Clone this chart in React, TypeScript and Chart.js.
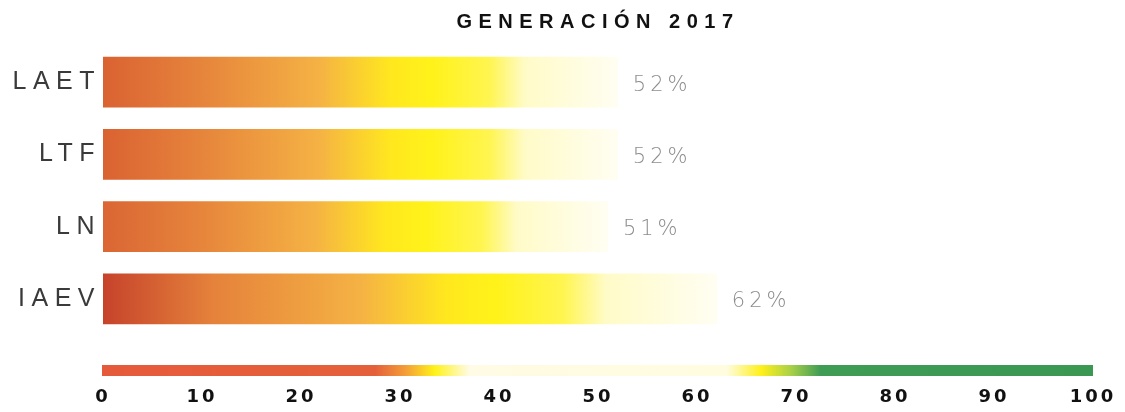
import React, { useEffect, useRef } from "react";
import { Chart, registerables } from "chart.js";

Chart.register(...registerables);

const title = "GENERACIÓN 2017";
const categories = ["LAET", "LTF", "LN", "IAEV"];
const values = [52, 52, 51, 62];
const axisMin = 0;
const axisMax = 100;
const axisStep = 10;

// colour stops of the reference scale strip (value on the 0-100 axis, colour)
const scaleStops: [number, string][] = [
  [0, "#e65a3c"],
  [27.5, "#e4603a"],
  [30.5, "#f39c38"],
  [33.5, "#fff21a"],
  [37, "#fffbe4"],
  [63, "#fffce0"],
  [66.5, "#fff01a"],
  [69.5, "#a8d048"],
  [72.5, "#3f9c55"],
  [100, "#3a9853"],
];

const barStartColors = ["#da6232", "#da6232", "#da6634", "#c6432b"];

const App: React.FC = () => {
  const canvasRef = useRef<HTMLCanvasElement | null>(null);

  useEffect(() => {
    if (!canvasRef.current) return;

    const spacingPlugin = {
      id: "spacing",
      beforeDraw(chart: any) {
        chart.ctx.letterSpacing = "6.5px";
      },
    };

    const stripPlugin = {
      id: "strip",
      afterDraw(chart: any) {
        const x = chart.scales.x;
        const ctx = chart.ctx;
        const x0 = x.getPixelForValue(axisMin) - 1;
        const x1 = x.getPixelForValue(axisMax);
        const y0 = chart.chartArea.bottom + 30;
        const g = ctx.createLinearGradient(x0, 0, x1, 0);
        for (const [v, c] of scaleStops) {
          g.addColorStop(Math.max(0, Math.min(1, (x.getPixelForValue(v) - x0) / (x1 - x0))), c);
        }
        ctx.save();
        ctx.fillStyle = g;
        ctx.fillRect(x0, y0, x1 - x0, 11);
        ctx.restore();
      },
    };

    const pctPlugin = {
      id: "pct",
      afterDatasetsDraw(chart: any) {
        const ctx = chart.ctx;
        const meta = chart.getDatasetMeta(0);
        ctx.save();
        ctx.letterSpacing = "4px";
        ctx.font = "200 21px 'DejaVu Sans', sans-serif";
        ctx.fillStyle = "#8c8c8c";
        ctx.textAlign = "left";
        ctx.textBaseline = "middle";
        meta.data.forEach((bar: any, i: number) => {
          ctx.fillText(`${values[i]}%`, bar.x + 15, bar.y + 3);
        });
        ctx.restore();
        // spacing for the x-axis tick labels, drawn after the datasets
        ctx.letterSpacing = "3px";
      },
    };

    const chart = new Chart(canvasRef.current, {
      type: "bar",
      data: {
        labels: categories,
        datasets: [
          {
            data: values,
            barThickness: 50,
            borderWidth: 0,
            backgroundColor: (c: any) => {
              const chart = c.chart;
              if (!chart.chartArea || c.dataIndex === undefined) return "#f0a040";
              const xs = chart.scales.x;
              const x0 = xs.getPixelForValue(0);
              const x1 = xs.getPixelForValue(values[c.dataIndex]);
              const g = chart.ctx.createLinearGradient(x0, 0, x1, 0);
              g.addColorStop(0, barStartColors[c.dataIndex]);
              g.addColorStop(0.18, "#e5823b");
              g.addColorStop(0.42, "#f5b244");
              g.addColorStop(0.56, "#ffe81e");
              g.addColorStop(0.64, "#fff21a");
              g.addColorStop(0.75, "#fff550");
              g.addColorStop(0.82, "#fffbc8");
              g.addColorStop(1, "#fffef2");
              return g;
            },
          },
        ],
      },
      options: {
        indexAxis: "y",
        animation: false,
        responsive: false,
        layout: { padding: { left: 0, right: 32, top: 0, bottom: 3 } },
        plugins: {
          legend: { display: false },
          tooltip: { enabled: false },
          title: {
            display: true,
            text: title,
            fullSize: false,
            color: "#111",
            font: { family: "'Liberation Sans', Arial, sans-serif", weight: "bold", size: 20 },
            padding: { top: 10, bottom: 12 },
          },
        },
        scales: {
          x: {
            min: axisMin,
            max: axisMax,
            position: "bottom",
            grid: { display: false, drawTicks: false },
            border: { display: false },
            ticks: {
              z: 1,
              stepSize: axisStep,
              color: "#111",
              padding: 52,
              maxRotation: 0,
              font: { family: "'DejaVu Sans', Verdana, sans-serif", weight: "bold", size: 18 },
            },
            afterFit: (s: any) => {
              s.paddingLeft = 0;
              s.paddingRight = 0;
              s.height = 74;
            },
          },
          y: {
            grid: { display: false, drawTicks: false },
            border: { display: false },
            ticks: {
              color: "#3a3a3a",
              padding: 2,
              font: { family: "'Liberation Sans', Arial, sans-serif", size: 25 },
            },
            afterFit: (s: any) => {
              s.width = 103;
              s.paddingTop = 0;
              s.paddingBottom = 0;
            },
          },
        },
      } as any,
      plugins: [spacingPlugin, stripPlugin, pctPlugin],
    });

    return () => chart.destroy();
  }, []);

  return (
    <div style={{ position: "fixed", left: 0, top: 0, width: 1125, height: 412, background: "#fff" }}>
      <canvas ref={canvasRef} width={1125} height={412} style={{ display: "block" }} />
    </div>
  );
};

export default App;
